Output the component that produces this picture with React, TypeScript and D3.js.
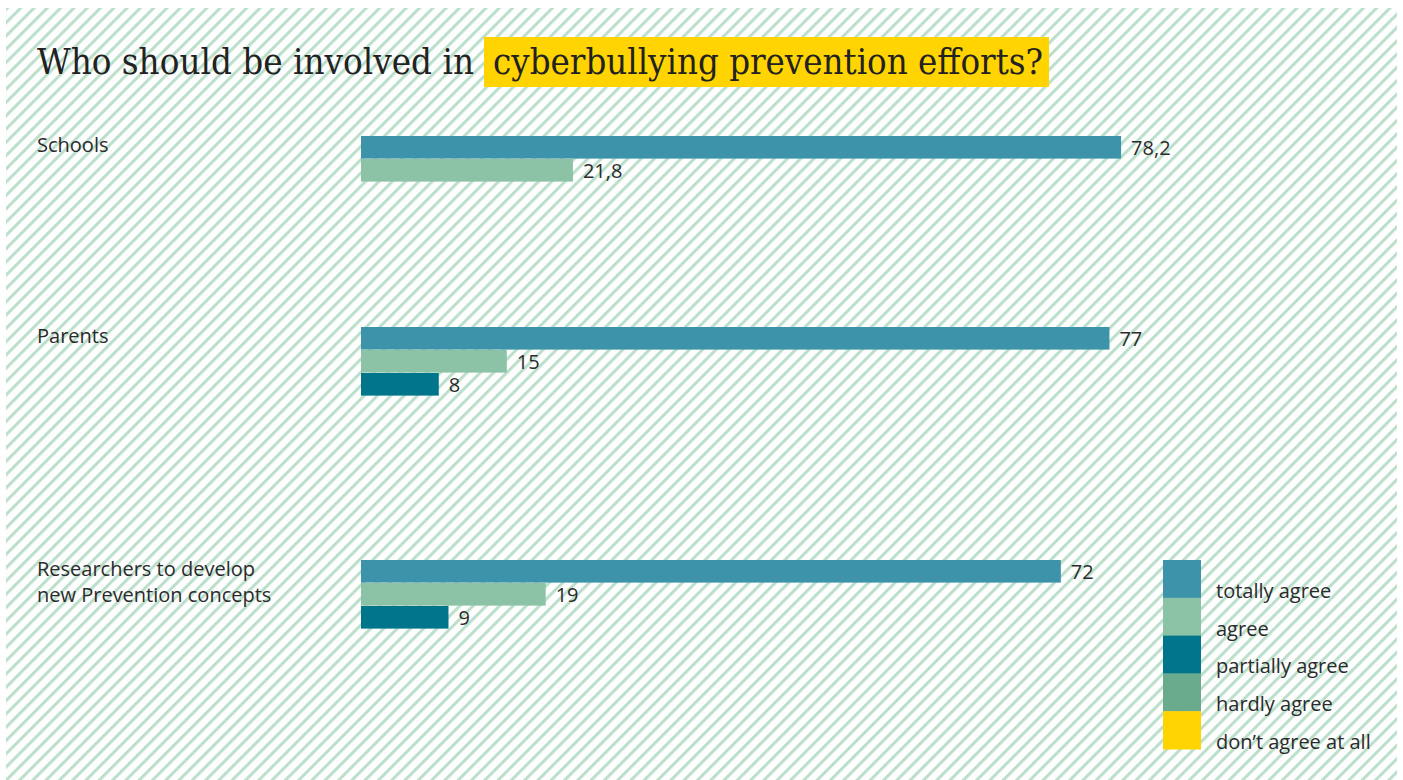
import React from "react";
import * as d3 from "d3";

const categories = ["Schools", "Parents", "Researchers to develop\nnew Prevention concepts"];
const seriesNames = ["totally agree", "agree", "partially agree", "hardly agree", "don’t agree at all"];
const seriesColors = ["#3d94aa", "#8cc2a6", "#00758c", "#6aab8e", "#ffd400"];
const schoolsValues = [78.2, 21.8];
const parentsValues = [77, 15, 8];
const researchersValues = [72, 19, 9];
const valueLabels = [["78,2", "21,8"], ["77", "15", "8"], ["72", "19", "9"]];

const W = 1403;
const H = 780;

export default function App() {
  const groups = [schoolsValues, parentsValues, researchersValues];
  const x = d3.scaleLinear().domain([0, 100]).range([361, 1333]);
  const groupTop = d3.scaleOrdinal<string, number>().domain(categories).range([136, 327, 560]);
  const barStep = 23;
  const barH = 22.6;
  const legendY = d3.scaleBand<string>().domain(seriesNames).range([560, 749]).padding(0);
  const sans = "'Open Sans', 'Noto Sans', sans-serif";
  const serif = "'DejaVu Serif', serif";
  const textColor = "#2b2b2b";

  return (
    <svg width={W} height={H} style={{ position: "absolute", left: 0, top: 0 }}>
      <defs>
        <pattern id="hatch" patternUnits="userSpaceOnUse" width={9.4} height={9.4} patternTransform="rotate(45)">
          <rect width={9.4} height={9.4} fill="#fdfefd" />
          <line x1={1.5} y1={0} x2={1.5} y2={9.4} stroke="#bcdfcc" strokeWidth={3} />
        </pattern>
      </defs>
      <rect x={0} y={0} width={W} height={H} fill="#ffffff" />
      <rect x={6} y={8} width={1391} height={772} fill="url(#hatch)" />

      {/* Title */}
      <text x={37} y={74} fontFamily={serif} fontSize={35} fill="#222" textLength={437} lengthAdjust="spacingAndGlyphs">
        Who should be involved in
      </text>
      <rect x={484} y={37} width={565} height={50} fill="#ffd400" />
      <text x={493} y={74} fontFamily={serif} fontSize={35} fill="#222" textLength={550} lengthAdjust="spacingAndGlyphs">
        cyberbullying prevention efforts?
      </text>

      {categories.map((cat, gi) => {
        const top = groupTop(cat);
        const lines = cat.split("\n");
        return (
          <g key={cat}>
            <text x={37} y={top + 16} fontFamily={sans} fontSize={20} fill={textColor}>
              {lines.map((ln, li) => (
                <tspan key={li} x={37} dy={li === 0 ? 0 : 26}>
                  {ln}
                </tspan>
              ))}
            </text>
            {groups[gi].map((v, si) => {
              const y = top + si * barStep;
              return (
                <g key={si}>
                  <rect x={x(0)} y={y} width={x(v) - x(0)} height={barH} fill={seriesColors[si]} />
                  <text x={x(v) + 10} y={y + 19} fontFamily={sans} fontSize={20} fill={textColor}>
                    {valueLabels[gi][si]}
                  </text>
                </g>
              );
            })}
          </g>
        );
      })}

      {/* Legend */}
      {seriesNames.map((name, i) => {
        const y = legendY(name) as number;
        const bh = legendY.bandwidth();
        return (
          <g key={name}>
            <rect x={1163} y={y} width={38} height={bh + 0.5} fill={seriesColors[i]} />
            <text x={1216} y={y + bh} fontFamily={sans} fontSize={20} fill={textColor}>
              {name}
            </text>
          </g>
        );
      })}
    </svg>
  );
}
